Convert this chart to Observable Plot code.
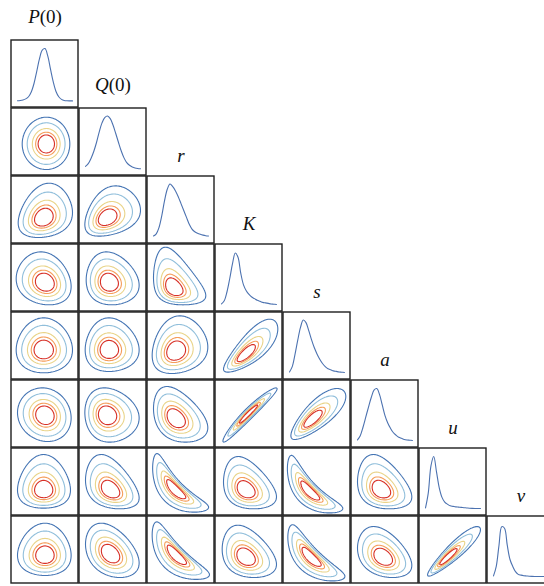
<!DOCTYPE html>
<html><head><meta charset="utf-8">
<script src="https://cdn.jsdelivr.net/npm/d3@7"></script>
<script src="https://cdn.jsdelivr.net/npm/@observablehq/plot@0.6"></script>
<style>body{margin:0;background:#fff}</style>
</head><body><div id="chart"></div>
<script>
// ---- variables (diagonal order) ----
const varNames = ["P(0)", "Q(0)", "r", "K", "s", "a", "u", "v"];

// ---- 1-D marginal densities, 21 evenly spaced samples each (relative height) ----
const margP = [0.005,0.01,0.02,0.04,0.08,0.17,0.33,0.56,0.80,0.96,0.99,0.85,0.60,0.36,0.18,0.08,0.03,0.01,0.005,0.003,0.002];
const margQ = [0.05,0.10,0.20,0.33,0.50,0.70,0.87,0.97,1.00,0.95,0.83,0.67,0.50,0.34,0.21,0.12,0.07,0.04,0.02,0.01,0.005];
const margR = [0.02,0.06,0.18,0.40,0.68,0.90,1.00,0.95,0.87,0.76,0.63,0.50,0.37,0.24,0.15,0.10,0.07,0.05,0.035,0.025,0.02];
const margK = [0.02,0.08,0.25,0.50,0.78,0.98,0.90,0.60,0.38,0.27,0.20,0.15,0.12,0.09,0.07,0.05,0.04,0.03,0.02,0.015,0.01];
const margS = [0.02,0.12,0.35,0.62,0.86,1.00,0.95,0.80,0.63,0.48,0.36,0.26,0.18,0.12,0.08,0.06,0.04,0.03,0.02,0.015,0.01];
const margA = [0.02,0.10,0.26,0.45,0.64,0.82,0.96,0.99,0.88,0.68,0.48,0.34,0.24,0.16,0.11,0.07,0.05,0.03,0.02,0.015,0.01];
const margU = [0.02,0.30,0.82,0.99,0.70,0.40,0.22,0.13,0.09,0.06,0.05,0.04,0.035,0.03,0.025,0.02,0.015,0.012,0.01,0.01,0.01];
const margV = [0.02,0.20,0.60,0.95,0.92,0.60,0.33,0.20,0.10,0.05,0.035,0.025,0.02,0.015,0.012,0.01,0.01,0.01,0.01,0.01,0.01];
const marginals = [margP, margQ, margR, margK, margS, margA, margU, margV];

// ---- 2-D pair densities (lower triangle), one entry per panel ----
const pairRow = [1, 2,2, 3,3,3, 4,4,4,4, 5,5,5,5,5, 6,6,6,6,6,6, 7,7,7,7,7,7,7];
const pairCol = [0, 0,1, 0,1,2, 0,1,2,3, 0,1,2,3,4, 0,1,2,3,4,5, 0,1,2,3,4,5,6];
// median location (fraction of panel, y measured upward)
const medX = [.52, .48,.41, .50,.44,.39, .48,.44,.42,.45, .50,.41,.42,.49,.43, .48,.46,.42,.45,.39,.44, .50,.46,.43,.45,.41,.47,.42];
const medY = [.47, .38,.38, .43,.43,.35, .44,.44,.42,.38, .48,.48,.43,.50,.42, .38,.38,.38,.38,.36,.38, .42,.44,.42,.39,.39,.39,.39];
// principal axis angle (degrees)
const axisAngle = [0, 0,0, 0,0,0, 0,0,0,0, 0,0,0,0,0, 0,0,-45,0,-45,0, 0,0,-45,0,-45,0,0];
// outer spread along first axis: low side / high side
const spreadALo = [.36, .38,.33, .43,.34,.30, .41,.355,.35,.33, .41,.33,.33,.38,.32, .39,.37,.59,.33,.58,.35, .41,.37,.57,.35,.55,.38,.30];
const spreadAHi = [.35, .43,.50, .39,.45,.48, .43,.45,.48,.48, .39,.48,.48,.43,.50, .40,.43,.54,.46,.54,.46, .39,.43,.565,.46,.57,.43,.49];
// outer spread along second axis: low side / high side
const spreadBLo = [.38, .29,.27, .33,.33,.25, .34,.32,.33,.27, .39,.40,.35,.42,.30, .27,.28,.23,.28,.21,.28, .30,.35,.25,.30,.23,.30,.28];
const spreadBHi = [.40, .52,.48, .46,.46,.61, .48,.48,.53,.52, .41,.41,.48,.39,.46, .53,.53,.13,.50,.13,.53, .48,.46,.13,.48,.14,.46,.46];
// correlation and curvature
const corr = [0, .2,.3, -.15,-.1,-.35, 0,0,.15,.78, -.1,-.1,-.35,.965,.78, 0,-.35,0,-.3,0,-.3, 0,-.35,0,-.3,0,-.35,.92];
const bend = [0, 0,0, 0,0,0, 0,0,0,0, 0,0,0,0,0, 0,0,.48,0,.5,0, 0,0,.37,0,.4,0,0];

const levels = [0.05, 0.15, 0.36, 0.55, 0.70];
const levelColors = ["#4575b4", "#91bfdb", "#e9d489", "#f59d5a", "#d73027"];

// ---- geometry helpers ----
const W = 67 / 68;              // panel size in grid units (pitch = 1)
const R = Math.sqrt(-2 * Math.log(levels[0]));

function axisParams(lo, hi) {
  const k = Math.log(hi / lo) / R;
  const s = Math.abs(k) < 1e-6 ? hi / R : hi * k / (Math.exp(k * R) - 1);
  return [s, k];
}
function sinv(w, k) {
  if (Math.abs(k) < 1e-6) return w;
  const t = 1 + k * w;
  return t > 0 ? Math.log(t) / k : NaN;
}
function makeDensity(n) {
  const [sa, ka] = axisParams(spreadALo[n], spreadAHi[n]);
  const [sb, kb] = axisParams(spreadBLo[n], spreadBHi[n]);
  const th = axisAngle[n] * Math.PI / 180, c = Math.cos(th), s = Math.sin(th);
  const rho = corr[n], b = bend[n], cx = medX[n], cy = medY[n];
  return (fx, fy) => {
    const dx = fx - cx, dy = fy - cy;
    const p = dx * c + dy * s;
    const q = -dx * s + dy * c - b * p * p;
    const u = sinv(p / sa, ka), v = sinv(q / sb, kb);
    if (!isFinite(u) || !isFinite(v)) return 0;
    const Q = (u * u - 2 * rho * u * v + v * v) / (1 - rho * rho);
    return Math.exp(-Q / 2);
  };
}

const contourMarks = pairRow.map((i, n) => {
  const j = pairCol[n];
  const f = makeDensity(n);
  return Plot.contour({
    x1: j, x2: j + W, y1: i, y2: i + W,
    value: (x, y) => f((x - j) / W, 1 - (y - i) / W),
    thresholds: levels,
    stroke: "value", fill: "none", strokeWidth: 1.1, pixelSize: 1
  });
});

const margPoints = [];
marginals.forEach((arr, i) => {
  arr.forEach((h, k) => {
    margPoints.push({
      name: varNames[i],
      x: i + (0.0896 + 0.8208 * k / (arr.length - 1)) * W,
      y: i + (1 - (0.097 + 0.791 * h)) * W
    });
  });
});

const cells = [];
for (let i = 0; i < varNames.length; ++i) for (let j = 0; j <= i; ++j) cells.push({i, j});

const labels = varNames.map((name, i) => ({
  name, x: i + W / 2, y: i - (name.includes("(") ? 23.6 : 20.1) / 68
}));

const chart = Plot.plot({
  width: 544, height: 586, margin: 0,
  style: {background: "#fff"},
  x: {domain: [-11 / 68, 533 / 68], range: [0, 544], axis: null},
  y: {domain: [-40 / 68, 546 / 68], range: [0, 586], axis: null},
  color: {type: "ordinal", domain: levels, range: levelColors},
  marks: [
    ...contourMarks,
    Plot.line(margPoints, {x: "x", y: "y", z: "name", stroke: "#4c72b0", strokeWidth: 1.1, curve: "catmull-rom"}),
    Plot.rect(cells, {x1: d => d.j, x2: d => d.j + W, y1: d => d.i, y2: d => d.i + W,
      fill: "none", stroke: "#1f1f1f", strokeWidth: 1.4}),
    Plot.text(labels, {x: "x", y: "y", text: "name", fontFamily: "Liberation Serif",
      fontSize: 19, fontStyle: "italic", fill: "#111"})
  ]
});

// math-style labels: italic letter, upright "(0)"
const NS = "http://www.w3.org/2000/svg";
chart.querySelectorAll("text").forEach(t => {
  const m = t.textContent.match(/^([A-Za-z])(\(0\))$/);
  if (m) {
    t.textContent = "";
    const a = document.createElementNS(NS, "tspan");
    a.setAttribute("font-style", "italic"); a.textContent = m[1];
    const b = document.createElementNS(NS, "tspan");
    b.setAttribute("font-style", "normal"); b.textContent = m[2];
    t.append(a, b);
  }
});
document.getElementById("chart").append(chart);
</script>
</body></html>
